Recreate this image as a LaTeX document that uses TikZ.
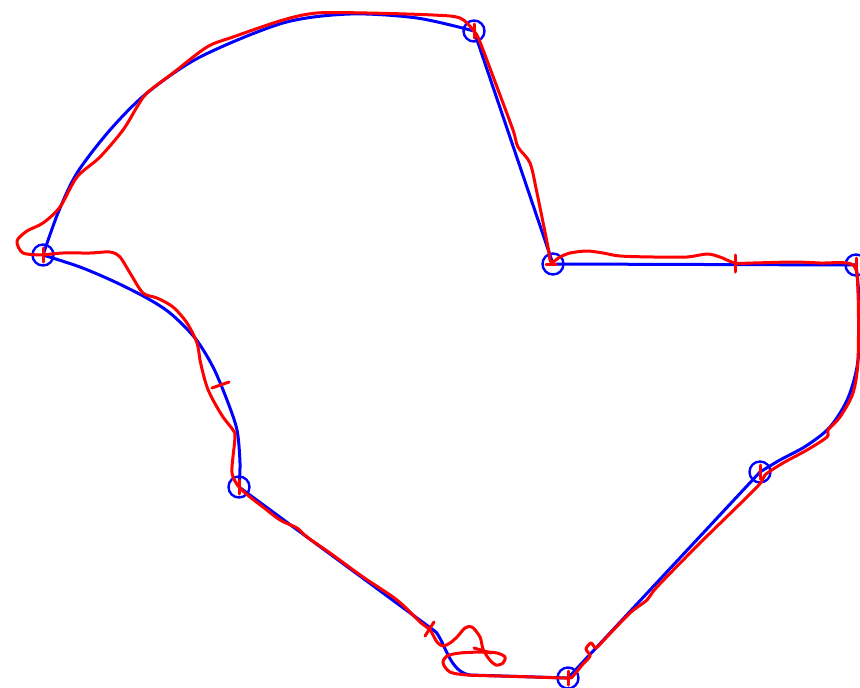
\documentclass[tikz,border=0pt]{standalone}
\begin{document}
\begin{tikzpicture}[x=1pt,y=-1pt,
  bluepath/.style={draw=blue, line width=3pt, line join=round},
  vcirc/.style={draw=blue, line width=2.4pt, circle, minimum size=21pt, inner sep=0pt},
  redpath/.style={draw=red, line width=3pt, line join=round, line cap=round},
  redtick/.style={draw=red, line width=3pt, line cap=round}]
\useasboundingbox (0,0) rectangle (860,688);
\coordinate (A) at (43,255);
\coordinate (B) at (474,31);
\coordinate (C) at (553,264);
\coordinate (D) at (856,265);
\coordinate (E) at (760,472);
\coordinate (F) at (568,678);
\coordinate (G) at (239,487);
% blue reference shape
\draw[bluepath] plot[smooth] coordinates {(A) (58,213) (77,173) (110,130) (147,93) (200,57) (283,23) (350,14) (417,18) (B)};
\draw[bluepath] (B) -- (C) -- (D);
\draw[bluepath] plot[smooth] coordinates {(D) (859,300) (858,360) (848,398) (830,427) (806,446) (780,460) (E)};
\draw[bluepath] (E) -- (F);
\draw[bluepath] (G) -- (436,632) .. controls (446,645) and (450,672) .. (470,675) -- (F);
\draw[bluepath] plot[smooth] coordinates {(G) (240,463) (237,430) (227,400) (213,367) (195,338) (170,313) (145,297) (113,281) (80,267) (A)};
% vertex circles
\foreach \p in {A,B,C,D,E,F,G} \node[vcirc] (c\p) at (\p) {};
% red traced path
\draw[redpath] plot[smooth, tension=0.5] coordinates {
(A) (23,253) (17,241) (27,231) (43,223) (60,207) (77,177) (100,157) (123,130)
(137,107) (147,93) (173,73) (207,47) (233,37) (283,20) (317,13) (367,13) (433,15)
(460,18) (474,31) (480,42) (497,87) (513,130) (518,147) (530,163) (537,193)
(548,247) (551,262) (560,257) (570,253) (587,251) (603,253) (620,256) (653,257)
(687,257) (707,254) (720,257) (735,263) (753,263) (793,262) (820,263) (853,265)
(858,293) (858,360) (853,393) (840,417) (828,430) (827,437) (807,450) (783,463)
(765,475) (757,487) (700,543) (657,587) (647,600) (630,613) (603,641) (596,648)
(591,643) (586,649) (590,656) (583,664) (573,676) (F) (533,677) (500,676)
(467,675) (450,672) (443,663) (447,656) (460,653) (483,652) (497,653) (505,657)
(503,663) (496,665) (489,659) (483,649) (480,637) (472,627) (465,628) (457,637)
(450,643) (443,646) (437,642) (430,630) (420,622) (397,600) (363,577) (330,553)
(307,537) (297,528) (280,520) (263,507) (250,497) (G) (233,477) (232,467)
(235,437) (233,430) (223,417) (213,400) (207,387) (203,373) (200,360) (197,343)
(187,323) (173,307) (157,298) (143,293) (130,273) (120,257) (110,252) (90,253)
(63,253) (A)};
% red ticks
\draw[redtick] (212,388) -- (229,382);
\draw[redtick] (735,255) -- (735,272);
\draw[redtick] (425,636) -- (434,622);
\draw[redtick] (474,648) -- (491,653);
\foreach \p in {A,B,D,E,F,G} \draw[redtick] ([yshift=-7pt]\p) -- ([yshift=7pt]\p);
\draw[redtick] ([xshift=-7pt]C) -- ([xshift=3pt]C);
\end{tikzpicture}
\end{document}
